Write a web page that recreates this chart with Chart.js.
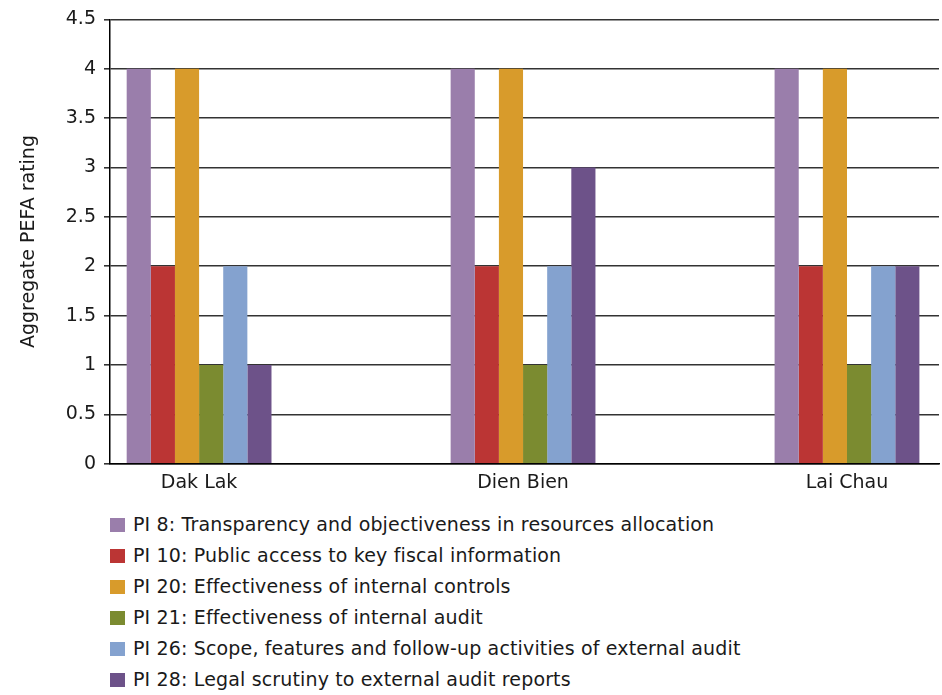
<!DOCTYPE html>
<html>
<head>
<meta charset="utf-8">
<script src="https://cdn.jsdelivr.net/npm/chart.js@4.4.1/dist/chart.umd.min.js"></script>
<style>
  html, body { margin: 0; padding: 0; background: #fff; }
  #wrap { position: relative; width: 942px; height: 695px; }
  #box { position: absolute; left: 0; top: 0; width: 942px; height: 495px; }
  #legend { position: absolute; left: 110px; top: 509px; font-family: "DejaVu Sans", sans-serif; font-size: 19px; letter-spacing: 0.15px; color: #1a1a1a; }
  #legend div { height: 31px; line-height: 31px; white-space: nowrap; }
  #legend span { display: inline-block; width: 15px; height: 14px; margin-right: 8px; vertical-align: -1px; }
</style>
</head>
<body>
<div id="wrap">
  <div id="box"><canvas id="chart"></canvas></div>
  <div id="legend"></div>
</div>
<script>
// Provinces
const categories = ["Dak Lak", "Dien Bien", "Lai Chau"];

// PEFA indicators
const seriesNames = [
  "PI 8: Transparency and objectiveness in resources allocation",
  "PI 10: Public access to key fiscal information",
  "PI 20: Effectiveness of internal controls",
  "PI 21: Effectiveness of internal audit",
  "PI 26: Scope, features and follow-up activities of external audit",
  "PI 28: Legal scrutiny to external audit reports"
];
const seriesColors = ["#9A7EAB", "#BB3534", "#D89B2B", "#7B8B30", "#84A2CF", "#6D5289"];

// ratings per province
const pi8 = [4, 4, 4];
const pi10 = [2, 2, 2];
const pi20 = [4, 4, 4];
const pi21 = [1, 1, 1];
const pi26 = [2, 2, 2];
const pi28 = [1, 3, 2];
const seriesValues = [pi8, pi10, pi20, pi21, pi26, pi28];

const yTicks = [0, 0.5, 1, 1.5, 2, 2.5, 3, 3.5, 4, 4.5];

const datasets = seriesNames.map((name, i) => ({
  label: name,
  data: seriesValues[i].map((v, j) => ({ x: j, y: v })),
  backgroundColor: seriesColors[i],
  borderWidth: 0,
  categoryPercentage: 0.447,
  barPercentage: 1
}));

// legend, one row per indicator
const legendEl = document.getElementById("legend");
seriesNames.forEach((name, i) => {
  const row = document.createElement("div");
  row.innerHTML = `<span style="background:${seriesColors[i]}"></span>${name}`;
  legendEl.appendChild(row);
});

const font = "'DejaVu Sans', sans-serif";

new Chart(document.getElementById("chart"), {
  type: "bar",
  data: { datasets },
  options: {
    responsive: true,
    maintainAspectRatio: false,
    animation: false,
    layout: { padding: { top: 15.5, right: 3, left: 0, bottom: 0.5 } },
    plugins: {
      legend: { display: false },
      tooltip: { enabled: false }
    },
    scales: {
      x: {
        type: "linear",
        offset: false,
        min: -0.275,
        max: 2.284,
        afterBuildTicks: scale => {
          scale.ticks = categories.map((c, i) => ({ value: i }));
        },
        ticks: {
          callback: v => categories[v],
          color: "#1a1a1a",
          font: { family: font, size: 19 },
          padding: 0,
          maxRotation: 0,
          autoSkip: false
        },
        grid: { display: false },
        border: { color: "#000", width: 1.5 }
      },
      y: {
        min: 0,
        max: 4.5,
        afterBuildTicks: scale => {
          scale.ticks = yTicks.map(v => ({ value: v }));
        },
        afterFit: scale => { scale.width = 110; },
        ticks: {
          callback: v => String(v),
          color: "#1a1a1a",
          font: { family: font, size: 19 },
          padding: 8
        },
        grid: { color: "#333", lineWidth: 1.6, tickLength: 6 },
        border: { color: "#000", width: 1.5 },
        title: {
          display: true,
          text: "Aggregate PEFA rating",
          color: "#1a1a1a",
          font: { family: font, size: 19 },
          padding: { top: 18, bottom: 8 }
        }
      }
    }
  }
});
</script>
</body>
</html>
